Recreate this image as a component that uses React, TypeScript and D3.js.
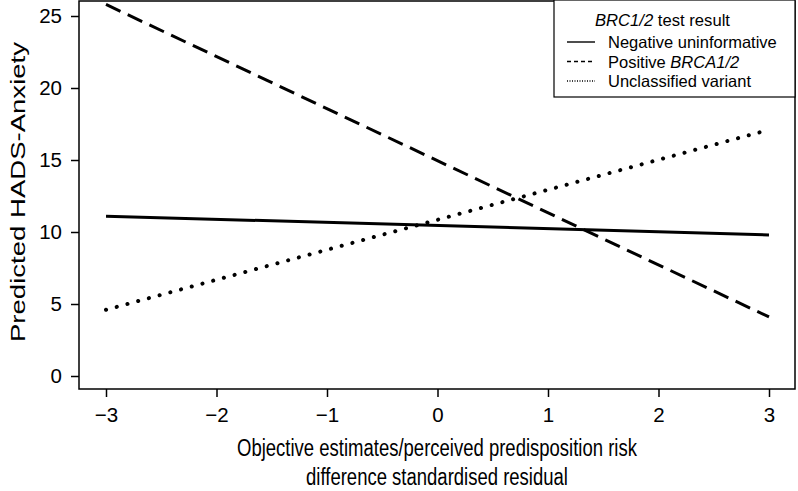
import React, { useEffect, useRef } from 'react'
import { select, scaleLinear, line, axisBottom, axisLeft } from 'd3'

// residual values at which the predictions are drawn
const residuals = [-3, 3]
const negativeUninformative = [11.1, 9.8]
const positiveBRCA = [25.8, 4.1]
const unclassifiedVariant = [4.6, 17.1]

const xTicks = [-3, -2, -1, 0, 1, 2, 3]
const yTicks = [0, 5, 10, 15, 20, 25]

const series = [
  { name: 'Negative uninformative', values: negativeUninformative, dash: null, cap: 'butt' },
  { name: 'Positive ', italic: 'BRCA1/2', values: positiveBRCA, dash: '16,8', cap: 'butt' },
  { name: 'Unclassified variant', values: unclassifiedVariant, dash: '0.1,11', cap: 'round' },
]

const App = () => {
  const ref = useRef<SVGSVGElement>(null)

  useEffect(() => {
    const svg = select(ref.current)
    svg.selectAll('*').remove()

    const font = '"Liberation Sans", Arial, sans-serif'
    const box = { left: 79, right: 795, top: 1, bottom: 389 }

    const x = scaleLinear().domain([-3, 3]).range([106, 769])
    const y = scaleLinear().domain([0, 25]).range([376, 16])

    // plot frame
    svg.append('rect')
      .attr('x', box.left).attr('y', box.top)
      .attr('width', box.right - box.left).attr('height', box.bottom - box.top)
      .attr('fill', 'none').attr('stroke', '#000').attr('stroke-width', 1.5)

    const gx = svg.append('g')
      .attr('transform', 'translate(0,' + box.bottom + ')')
      .call(axisBottom(x).tickValues(xTicks).tickSize(8).tickSizeOuter(0).tickPadding(10)
        .tickFormat(d => String(d).replace('-', '\u2212')))
    gx.select('.domain').remove()
    gx.selectAll('line').attr('stroke-width', 1.5)
    gx.selectAll('text').attr('font-size', 20.5).attr('font-family', font).attr('fill', '#000')

    const gy = svg.append('g')
      .attr('transform', 'translate(' + box.left + ',0)')
      .call(axisLeft(y).tickValues(yTicks).tickSize(8).tickSizeOuter(0).tickPadding(9))
    gy.select('.domain').remove()
    gy.selectAll('line').attr('stroke-width', 1.5)
    gy.selectAll('text').attr('font-size', 20.5).attr('font-family', font).attr('fill', '#000')

    // axis titles (the figure is stretched vertically, so the text is too)
    const titleLines = [
      ['Objective estimates/perceived predisposition risk', 456],
      ['difference standardised residual', 485],
    ]
    titleLines.forEach(([txt, yy]) => {
      svg.append('text')
        .attr('transform', 'translate(437,' + yy + ') scale(1,1.25)')
        .attr('text-anchor', 'middle').attr('font-family', font).attr('font-size', 18.5)
        .text(txt as string)
    })

    svg.append('text')
      .attr('transform', 'translate(25,192) rotate(-90)')
      .attr('text-anchor', 'middle').attr('font-family', font).attr('font-size', 21)
      .attr('textLength', 300).attr('lengthAdjust', 'spacingAndGlyphs')
      .text('Predicted HADS-Anxiety')

    // prediction lines
    const pathLine = line<number>()
      .x((d, i) => x(residuals[i]))
      .y(d => y(d))

    series.forEach(s => {
      svg.append('path')
        .datum(s.values)
        .attr('fill', 'none')
        .attr('stroke', '#000')
        .attr('stroke-width', s.cap === 'round' ? 4 : 3)
        .attr('stroke-linecap', s.cap)
        .attr('stroke-dasharray', s.dash)
        .attr('d', pathLine)
    })

    // legend
    const lg = svg.append('g').attr('font-family', font)
    lg.append('rect')
      .attr('x', 554).attr('y', 0).attr('width', 241).attr('height', 97)
      .attr('fill', '#fff').attr('stroke', '#000').attr('stroke-width', 1.2)
    const title = lg.append('text').attr('x', 595).attr('y', 26)
      .attr('font-size', 16.5).attr('textLength', 135).attr('lengthAdjust', 'spacingAndGlyphs')
    title.append('tspan').attr('font-style', 'italic').text('BRC1/2')
    title.append('tspan').text(' test result')

    series.forEach((s, i) => {
      const yy = 42 + i * 19.5
      lg.append('line')
        .attr('x1', 567).attr('x2', 595).attr('y1', yy).attr('y2', yy)
        .attr('stroke', '#000')
        .attr('stroke-width', s.cap === 'round' ? 1.5 : 1.4)
        .attr('stroke-dasharray', s.dash ? (s.cap === 'round' ? '1,1.5' : '4,3') : null)
      const t = lg.append('text').attr('x', 608).attr('y', yy + 6).attr('font-size', 16.5)
      t.append('tspan').text(s.name)
      if (s.italic) t.append('tspan').attr('font-style', 'italic').text(s.italic)
    })
  }, [])

  return (
    <svg ref={ref} width={798} height={491}
      style={{ position: 'absolute', left: 0, top: 0, background: '#fff' }} />
  )
}

export default App
